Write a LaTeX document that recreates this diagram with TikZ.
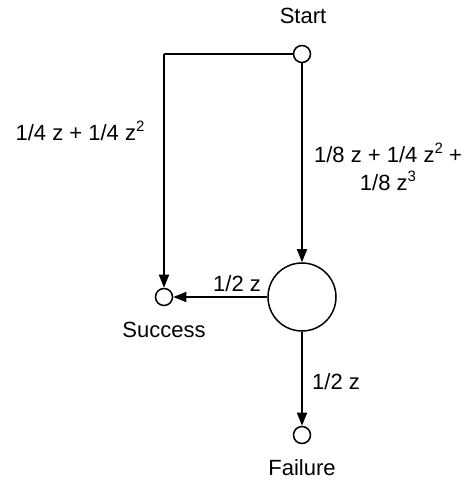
\documentclass[tikz,border=0pt]{standalone}
\usepackage{fontspec}
\setmainfont{Liberation Sans}
\usetikzlibrary{arrows.meta}
\newcommand{\supnum}[1]{\raisebox{0.42em}{\fontsize{15}{15}\selectfont #1}}
\begin{document}
\begin{tikzpicture}[x=1pt,y=1pt,
  every node/.style={font=\fontsize{22}{28}\selectfont},
  state/.style={circle,draw,line width=1.5pt,inner sep=0pt,minimum size=17pt},
  bigstate/.style={circle,draw,line width=1.5pt,inner sep=0pt,minimum size=68pt},
  conn/.style={line width=1.5pt,-{Triangle[length=13pt,width=10pt]}},
  lab/.style={inner sep=0pt,align=center}]
\useasboundingbox (0,0) rectangle (468,483);
\node[state] (start) at (302,429) {};
\coordinate (corner) at (164,429);
\node[state] (succ) at (164,186) {};
\node[bigstate] (big) at (302,186) {};
\node[state] (fail) at (302,48) {};
\node[lab] (tstart) at (303,467) {Start};
\node[lab] (tsucc) at (164,153) {Success};
\node[lab] (tfail) at (302,15) {Failure};
\draw[line width=1.5pt] (start.west) -- (corner);
\draw[conn] (corner) -- (succ.north);
\draw[conn] (start.south) -- (big.north);
\draw[conn] (big.west) -- (succ.east);
\draw[conn] (big.south) -- (fail.north);
\node[lab] (l1) at (80,352) {1/4 z + 1/4 z\supnum{2}};
\node[lab] (l2) at (388,316) {1/8 z + 1/4 z\supnum{2} +\\1/8 z\supnum{3}};
\node[lab] (l3) at (237,199) {1/2 z};
\node[lab,anchor=west] (l4) at (312,101) {1/2 z};
\end{tikzpicture}
\end{document}
